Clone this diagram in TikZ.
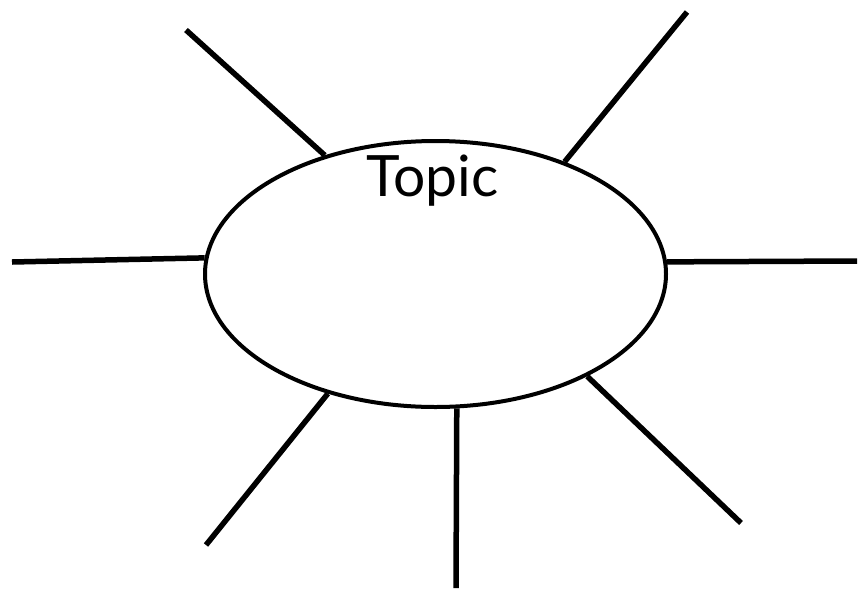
\documentclass[tikz,border=0pt]{standalone}
\usepackage{fontspec}
\setmainfont{Lato}
\usetikzlibrary{shapes.geometric}

\begin{document}
\begin{tikzpicture}[x=1pt, y=-1pt, spoke/.style={line width=5.5pt}]
\useasboundingbox (0,0) rectangle (859,590);
\node[draw, ellipse, line width=4pt, inner sep=0pt, minimum width=461pt, minimum height=266pt,
  label={[font=\fontsize{57}{60}\selectfont, anchor=north, yshift=-12pt, xshift=-3pt]north:Topic}] (topic) at (435.5,274) {};
\coordinate (ul) at (186,30);
\coordinate (ur) at (687,12);
\coordinate (l) at (12,262);
\coordinate (r) at (857,261);
\coordinate (ll) at (206,545);
\coordinate (b) at (456,588);
\coordinate (lr) at (741,523);
\draw[spoke] (ul) -- (topic.133.5);
\draw[spoke] (ur) -- (topic.41.5);
\draw[spoke] (l) -- (topic.176.3);
\draw[spoke] (r) -- (topic.3.4);
\draw[spoke] (ll) -- (topic.228.7);
\draw[spoke] (b) -- (topic.279.5);
\draw[spoke] (lr) -- (topic.326);
\end{tikzpicture}
\end{document}
